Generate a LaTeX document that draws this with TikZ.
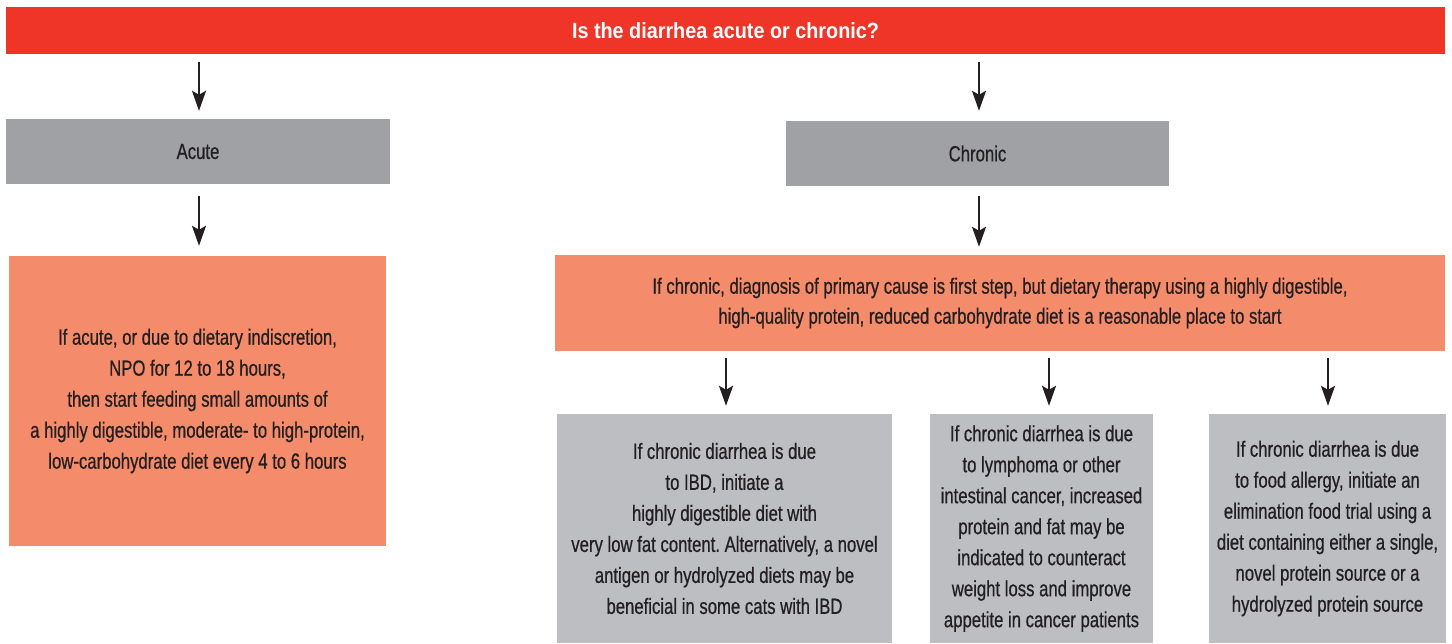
\documentclass[tikz,border=0pt]{standalone}
\usepackage{fontspec}
\setmainfont{Liberation Sans}[FakeStretch=0.76,FakeBold=0.6]
\newfontfamily\titlefont{Liberation Sans}[FakeStretch=0.9]
\usetikzlibrary{arrows.meta}
\frenchspacing
\definecolor{barred}{HTML}{EE3528}
\definecolor{hdrgray}{HTML}{A0A1A5}
\definecolor{boxorange}{HTML}{F48B6B}
\definecolor{boxgray}{HTML}{BDBEC1}
\definecolor{txt}{HTML}{231F20}
\tikzset{
  box/.style={rectangle, inner sep=0pt, align=center, text=txt,
    font=\fontsize{22}{31}\selectfont},
  arr/.style={line width=2.2pt, draw=txt, -{Stealth[length=20pt,width=14pt,inset=4pt]}}
}
\begin{document}
\begin{tikzpicture}[x=1pt,y=-1pt]
\useasboundingbox (0,0) rectangle (1452,643);
\node[box, fill=barred, text=white, minimum width=1439pt, minimum height=47pt,
  font=\titlefont\fontsize{22}{24}\selectfont\bfseries] (q) at (725.5,30.5) {Is the diarrhea acute or chronic?};
\node[box, fill=hdrgray, minimum width=384pt, minimum height=65pt] (acute) at (198,151.5) {Acute};
\node[box, fill=hdrgray, minimum width=383pt, minimum height=65pt] (chronic) at (977.5,153.5) {Chronic};
\node[box, fill=boxorange, minimum width=377pt, minimum height=290pt] (acutetx) at (197.5,401)
  {If acute, or due to dietary indiscretion,\\NPO for 12 to 18 hours,\\then start feeding small amounts of\\a highly digestible, moderate- to high-protein,\\low-carbohydrate diet every 4 to 6 hours};
\node[box, fill=boxorange, minimum width=890pt, minimum height=96pt,
  font=\fontsize{22}{30}\selectfont] (chrontx) at (1000,303)
  {If chronic, diagnosis of primary cause is first step, but dietary therapy using a highly digestible,\\high-quality protein, reduced carbohydrate diet is a reasonable place to start};
\node[box, fill=boxgray, minimum width=335pt, minimum height=229pt] (b1) at (724.5,528.5)
  {If chronic diarrhea is due\\to IBD, initiate a\\highly digestible diet with\\very low fat content. Alternatively, a novel\\antigen or hydrolyzed diets may be\\beneficial in some cats with IBD};
\node[box, fill=boxgray, minimum width=223pt, minimum height=229pt] (b2) at (1041.5,528.5)
  {If chronic diarrhea is due\\to lymphoma or other\\intestinal cancer, increased\\protein and fat may be\\indicated to counteract\\weight loss and improve\\appetite in cancer patients};
\node[box, fill=boxgray, minimum width=237pt, minimum height=229pt] (b3) at (1327.5,528.5)
  {If chronic diarrhea is due\\to food allergy, initiate an\\elimination food trial using a\\diet containing either a single,\\novel protein source or a\\hydrolyzed protein source};
\draw[arr, shorten <=8pt, shorten >=8pt] ([xshift=1pt]q.south -| acute.north) -- ([xshift=1pt]acute.north);
\draw[arr, shorten <=8pt, shorten >=10pt] ([xshift=1.5pt]q.south -| chronic.north) -- ([xshift=1.5pt]chronic.north);
\draw[arr, shorten <=12pt, shorten >=10pt] ([xshift=1pt]acute.south) -- ([xshift=1pt]acute.south |- acutetx.north);
\draw[arr, shorten <=10pt, shorten >=8pt] ([xshift=1.5pt]chronic.south) -- ([xshift=1.5pt]chronic.south |- chrontx.north);
\draw[arr, shorten <=7pt, shorten >=8pt] ([xshift=1.5pt]chrontx.south -| b1.north) -- ([xshift=1.5pt]b1.north);
\draw[arr, shorten <=7pt, shorten >=8pt] ([xshift=7.5pt]chrontx.south -| b2.north) -- ([xshift=7.5pt]b2.north);
\draw[arr, shorten <=7pt, shorten >=8pt] ([xshift=0.5pt]chrontx.south -| b3.north) -- ([xshift=0.5pt]b3.north);
\end{tikzpicture}
\end{document}
